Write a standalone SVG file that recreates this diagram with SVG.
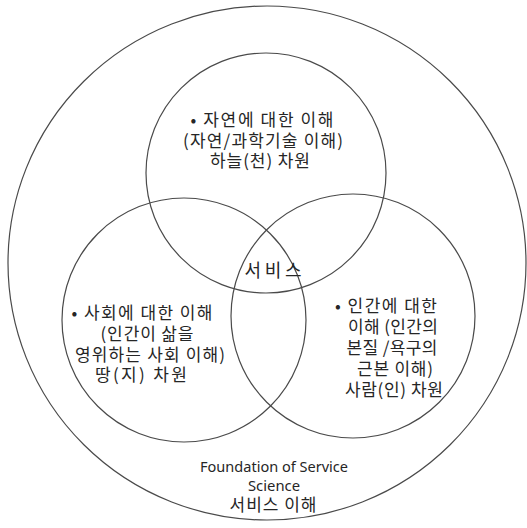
<svg xmlns="http://www.w3.org/2000/svg" width="527" height="528" viewBox="0 0 527 528">
<style>
.c{fill:none;stroke:#4a4a4a;stroke-width:1.2}
.t{font-family:"Noto Sans CJK KR","Noto Sans",sans-serif;font-size:17px;fill:#262626;text-anchor:middle}
.e{font-family:"Noto Sans","Noto Sans CJK KR",sans-serif;font-size:13.5px;fill:#262626;text-anchor:middle}
</style>
<rect width="527" height="528" fill="#fff"/>
<g id="outer">
<ellipse class="c" cx="267" cy="263" rx="259" ry="257"/>
<text class="e" x="274" y="472" textLength="148" lengthAdjust="spacingAndGlyphs">Foundation of Service</text>
<text class="e" x="274" y="491" textLength="52" lengthAdjust="spacingAndGlyphs">Science</text>
<text class="t" x="273" y="511" textLength="87">서비스 이해</text>
</g>
<g id="nature">
<circle class="c" cx="266" cy="173" r="120"/>
<text class="t" x="262" y="126" textLength="143">• 자연에 대한 이해</text>
<text class="t" x="263" y="147" textLength="160">(자연/과학기술 이해)</text>
<text class="t" x="260" y="167" textLength="100">하늘(천) 차원</text>
</g>
<g id="society">
<circle class="c" cx="184" cy="320" r="122"/>
<text class="t" x="142" y="319" textLength="141">• 사회에 대한 이해</text>
<text class="t" x="147" y="340" textLength="93">(인간이 삶을</text>
<text class="t" x="150" y="361" textLength="150">영위하는 사회 이해)</text>
<text class="t" x="141" y="381" textLength="92">땅(지) 차원</text>
</g>
<g id="human">
<circle class="c" cx="353" cy="316" r="122"/>
<text class="t" x="386" y="312" textLength="102">• 인간에 대한</text>
<text class="t" x="393" y="333" textLength="90">이해 (인간의</text>
<text class="t" x="392" y="354" textLength="91">본질 /욕구의</text>
<text class="t" x="395" y="375" textLength="76">근본 이해)</text>
<text class="t" x="394" y="396" textLength="98">사람(인) 차원</text>
</g>
<g id="service">
<text class="t" x="273" y="277" textLength="57" style="font-size:18px">서비스</text>
</g>
<g id="connectors"/>
</svg>
